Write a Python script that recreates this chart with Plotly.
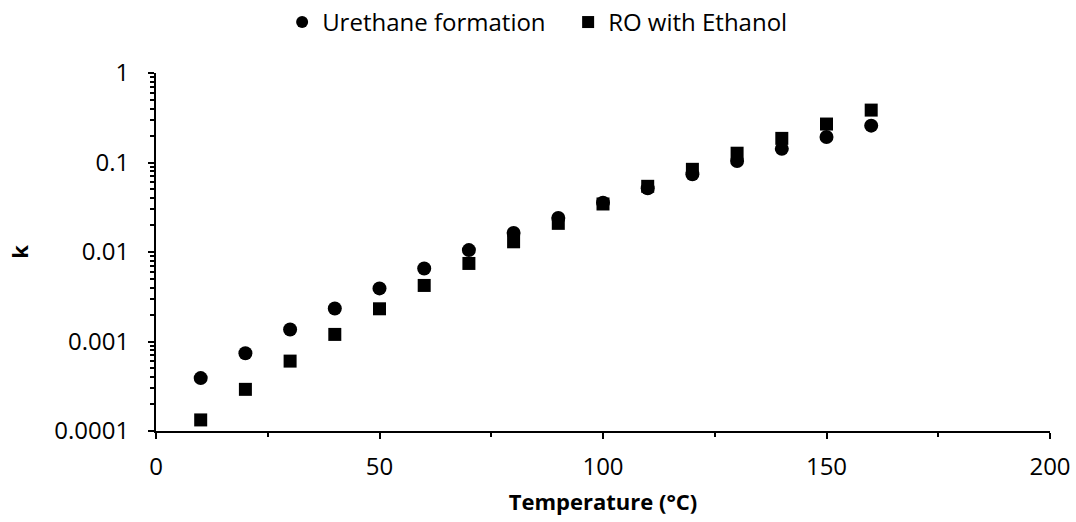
import plotly.graph_objects as go

temperature = [10, 20, 30, 40, 50, 60, 70, 80, 90, 100, 110, 120, 130, 140, 150, 160]
urethane_k = [3.9e-4, 7.4e-4, 1.36e-3, 2.34e-3, 3.92e-3, 6.55e-3, 0.0105, 0.0163,
              0.0240, 0.0356, 0.0515, 0.0738, 0.104, 0.142, 0.193, 0.258]
ro_ethanol_k = [1.33e-4, 2.92e-4, 6.04e-4, 1.20e-3, 2.32e-3, 4.23e-3, 7.45e-3, 0.0130,
                0.0209, 0.0344, 0.0542, 0.0839, 0.127, 0.186, 0.269, 0.385]
y_tickvals = [0.0001, 0.001, 0.01, 0.1, 1]
y_ticktext = ["0.0001", "0.001", "0.01", "0.1", "1"]

FONT = "Open Sans"
fig = go.Figure()
fig.add_trace(go.Scatter(x=temperature, y=urethane_k, mode="markers", name="Urethane formation",
                         marker=dict(symbol="circle", size=14, color="#000000")))
fig.add_trace(go.Scatter(x=temperature, y=ro_ethanol_k, mode="markers", name="RO with Ethanol",
                         marker=dict(symbol="square", size=13, color="#000000")))

fig.update_layout(
    width=1076, height=522,
    margin=dict(l=156, r=26, t=73, b=91, autoexpand=False),
    paper_bgcolor="white", plot_bgcolor="white",
    font=dict(family=FONT, size=24, color="#000000"),
    showlegend=True,
    legend=dict(orientation="h", x=0.528, xanchor="center", xref="container",
                y=0.957, yanchor="middle", yref="container",
                entrywidth=241,
                font=dict(family=FONT, size=24), itemsizing="constant"),
)
fig.update_xaxes(
    range=[0, 200], dtick=50, tick0=0, automargin=False,
    showline=True, linecolor="#000000", linewidth=2,
    showgrid=False, zeroline=False,
    ticks="outside", ticklen=6, tickwidth=2, tickcolor="#000000",
    minor=dict(ticks="outside", ticklen=4, tickwidth=2, tickcolor="#000000", dtick=25, showgrid=False),
    ticklabelstandoff=7,
    tickfont=dict(size=24),
    title=dict(text="<b>Temperature (°C)</b>", font=dict(family=FONT, size=22), standoff=14),
)
fig.update_yaxes(
    type="log", range=[-4, 0], automargin=False,
    tickvals=y_tickvals, ticktext=y_ticktext,
    showline=True, linecolor="#000000", linewidth=2,
    showgrid=False, zeroline=False,
    ticks="outside", ticklen=6, tickwidth=2, tickcolor="#000000",
    minor=dict(ticks="outside", ticklen=4, tickwidth=2, tickcolor="#000000", dtick="D1", showgrid=False),
    ticklabelstandoff=14,
    tickfont=dict(size=24),
    title=dict(text="<b>k</b>", font=dict(family=FONT, size=22), standoff=20),
)
fig.write_html("out.html", config={"displayModeBar": False},
               post_script="document.body.style.margin='0px';document.body.style.overflow='hidden';")
